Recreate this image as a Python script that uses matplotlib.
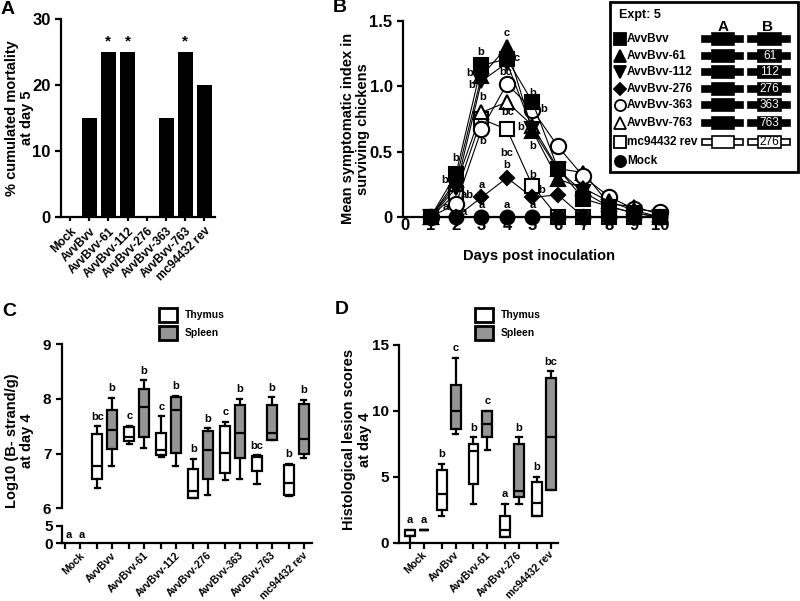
import matplotlib
matplotlib.use('Agg')
import matplotlib.pyplot as plt
import matplotlib.patches as mpatches
import numpy as np

plt.rcParams['font.family'] = ['Liberation Sans', 'DejaVu Sans']
plt.rcParams['font.weight'] = 'bold'
plt.rcParams['axes.labelweight'] = 'bold'
plt.rcParams['axes.linewidth'] = 1.6
plt.rcParams['xtick.major.width'] = 1.6
plt.rcParams['ytick.major.width'] = 1.6
plt.rcParams['xtick.major.size'] = 4
plt.rcParams['ytick.major.size'] = 4

# ---------------- data ----------------
# A: mortality
groups_a = ['Mock', 'AvvBvv', 'AvvBvv-61', 'AvvBvv-112', 'AvvBvv-276',
            'AvvBvv-363', 'AvvBvv-763', 'mc94432 rev']
mortality = [0, 15, 25, 25, 0, 15, 25, 20]
mortality_sig = ['', '', '*', '*', '', '', '*', '']

# B: mean symptomatic index
days = [1, 2, 3, 4, 5, 6, 7, 8, 9, 10]
sym_avvbvv = [0, 0.33, 1.16, 1.21, 0.88, 0.37, 0.14, 0.08, 0.03, 0]
sym_61 = [0, 0.28, 1.08, 1.30, 0.66, 0.29, 0.22, 0.12, 0.05, 0]
sym_112 = [0, 0.22, 1.04, 1.18, 0.67, 0.36, 0.19, 0.08, 0.03, 0]
sym_276 = [0, 0, 0.15, 0.30, 0.15, 0.17, 0, 0, 0, 0]
sym_363 = [0, 0.10, 0.67, 1.02, 0.82, 0.54, 0.31, 0.155, 0.06, 0.04]
sym_763 = [0, 0.25, 0.80, 0.88, 0.70, 0.37, 0.34, 0.10, 0.08, 0.02]
sym_mc = [0, 0.18, 0.75, 0.67, 0.24, 0, 0, 0, 0, 0]
sym_mock = [0, 0, 0, 0, 0, 0, 0, 0, 0, 0]
# letters of statistical groups (day, value, letter)
letters_b = [(2, 0.45, 'b'), (1.55, 0.28, 'b'), (2.45, 0.17, 'ab'), (1.58, 0.08, 'a'),
             (2.3, 0.04, 'a'), (2.97, 1.26, 'b'), (2.55, 1.10, 'b'), (2.6, 1.01, 'b'),
             (3.05, 0.92, 'b'), (3.05, 0.58, 'b'), (3.0, 0.245, 'a'), (3.0, 0.09, 'a'),
             (4.0, 1.41, 'c'), (4.4, 1.22, 'c'), (3.97, 1.11, 'bc'), (4.02, 0.80, 'bc'),
             (4.0, 0.49, 'bc'), (4.0, 0.40, 'b'), (4.0, 0.09, 'a'), (5.02, 0.95, 'b'),
             (5.45, 0.83, 'b'), (4.55, 0.69, 'b'), (5.02, 0.54, 'b'), (5.02, 0.32, 'b'),
             (5.38, 0.21, 'b'), (5.0, 0.09, 'a')]

# C: viral load, log10 (whislo, q1, med, q3, whishi)
groups_c = ['Mock', 'AvvBvv', 'AvvBvv-61', 'AvvBvv-112', 'AvvBvv-276',
            'AvvBvv-363', 'AvvBvv-763', 'mc94432 rev']
thymus_c = [None,
            (6.37, 6.53, 6.77, 7.36, 7.50),
            (7.17, 7.23, 7.31, 7.49, 7.51),
            (6.94, 6.97, 7.06, 7.37, 7.68),
            (6.19, 6.19, 6.32, 6.71, 6.91),
            (6.51, 6.65, 7.02, 7.50, 7.58),
            (6.44, 6.68, 6.93, 6.95, 6.97),
            (6.23, 6.24, 6.46, 6.79, 6.81)]
spleen_c = [None,
            (6.77, 7.08, 7.44, 7.79, 8.02),
            (7.11, 7.31, 7.85, 8.18, 8.34),
            (6.78, 7.02, 7.79, 8.03, 8.06),
            (6.24, 6.54, 7.06, 7.42, 7.46),
            (6.54, 6.92, 7.38, 7.89, 8.00),
            (7.25, 7.25, 7.37, 7.89, 8.03),
            (6.92, 6.99, 7.26, 7.90, 7.98)]
thy_letters_c = ['a', 'bc', 'c', 'c', 'b', 'c', 'bc', 'b']
spl_letters_c = ['a', 'b', 'b', 'b', 'b', 'b', 'b', 'b']

# D: histological lesion scores
groups_d = ['Mock', 'AvvBvv', 'AvvBvv-61', 'AvvBvv-276', 'mc94432 rev']
thymus_d = [(0, 0.5, 0.5, 1.0, 1.0),
            (2.0, 2.45, 3.7, 5.5, 6.0),
            (2.95, 4.45, 6.95, 7.5, 8.0),
            (0.4, 0.4, 0.95, 2.0, 2.95),
            (2.0, 2.0, 3.0, 4.6, 5.0)]
spleen_d = [(1.0, 1.0, 1.0, 1.0, 1.0),
            (8.25, 8.6, 10.0, 12.0, 14.0),
            (7.05, 8.0, 9.0, 10.0, 10.0),
            (2.95, 3.45, 3.95, 7.5, 8.0),
            (4.0, 4.0, 8.0, 12.5, 13.0)]
thy_letters_d = ['a', 'b', 'b', 'a', 'b']
spl_letters_d = ['a', 'c', 'c', 'b', 'bc']

GREY = '#959595'
W, H = 800, 601
LBL = 10.5   # axis titles
TCK = 11     # tick numbers
CAT = 8.5    # rotated group names (A)
CAT2 = 7.5   # rotated group names (C, D)
LET = 8      # significance letters


def rect(x0, y0, x1, y1):
    # pixel box (top-left origin) -> figure fraction
    return [x0 / W, 1 - y1 / H, (x1 - x0) / W, (y1 - y0) / H]


def stats(t):
    return dict(whislo=t[0], q1=t[1], med=t[2], q3=t[3], whishi=t[4], fliers=[])


def draw_boxes(ax, data, pos, face):
    ax.bxp([stats(t) for t in data], positions=pos, widths=0.31, patch_artist=True,
           showfliers=False, manage_ticks=False, capwidths=0.17,
           boxprops=dict(facecolor=face, edgecolor='black', linewidth=1.6),
           medianprops=dict(color='black', linewidth=1.6),
           whiskerprops=dict(color='black', linewidth=1.6),
           capprops=dict(color='black', linewidth=1.6))


fig = plt.figure(figsize=(8, 6.01), dpi=100)

# ---------------- A ----------------
axA = fig.add_axes(rect(61, 19.3, 215, 216.7))
xa = np.arange(len(groups_a))
axA.bar(xa, mortality, width=0.78, color='black')
for x, v, s in zip(xa, mortality, mortality_sig):
    if s:
        axA.text(x, v + 0.6, s, ha='center', va='bottom', fontsize=11)
axA.set_xlim(-0.47, 7.55)
axA.set_ylim(0, 30)
axA.set_yticks([0, 10, 20, 30])
axA.set_xticks(xa)
axA.set_xticklabels(groups_a, rotation=45, ha='right', rotation_mode='anchor', fontsize=CAT)
axA.tick_params(axis='y', labelsize=TCK + 1)
axA.tick_params(axis='x', length=3, pad=3)
axA.spines[['top', 'right']].set_visible(False)
axA.set_ylabel('% cumulated mortality\nat day 5', fontsize=LBL, linespacing=1.1, va='center')
axA.yaxis.set_label_coords(-0.27, 0.5)

# ---------------- B ----------------
axB = fig.add_axes(rect(403, 21, 666, 217))
series = [(sym_mc, 's', 'white', 10), (sym_763, '^', 'white', 10),
          (sym_363, 'o', 'white', 11), (sym_276, 'D', 'black', 7),
          (sym_112, 'v', 'black', 10), (sym_61, '^', 'black', 10),
          (sym_avvbvv, 's', 'black', 10), (sym_mock, 'o', 'black', 10)]
for vals, mk, fc, ms in series:
    axB.plot(days, vals, marker=mk, color='black', mfc=fc, mec='black', ms=ms,
             mew=1.5, lw=0.8, clip_on=False)
for d, v, s in letters_b:
    axB.text(d, v, s, ha='center', va='center', fontsize=LET)
axB.set_xlim(-0.08, 10.24)
axB.set_ylim(0, 1.5)
axB.set_xticks(range(0, 11))
axB.set_yticks([0, 0.5, 1.0, 1.5])
axB.set_yticklabels(['0', '0.5', '1.0', '1.5'])
axB.tick_params(labelsize=TCK + 1)
axB.tick_params(axis='x', length=0, pad=1)
axB.spines[['top', 'right']].set_visible(False)
axB.set_xlabel('Days post inoculation', fontsize=LBL, va='center')
axB.xaxis.set_label_coords(0.517, -0.2)
axB.set_ylabel('Mean symptomatic index in\nsurviving chickens', fontsize=LBL,
               linespacing=1.1, va='center')
axB.yaxis.set_label_coords(-0.18, 0.45)

# ---------------- C ----------------
xc = np.arange(len(groups_c))
axC = fig.add_axes(rect(61.7, 344.3, 311.7, 508.3))
axC2 = fig.add_axes(rect(61.7, 525.7, 311.7, 543.3))
thy_pos = [x - 0.225 for x in xc]
spl_pos = [x + 0.225 for x in xc]
draw_boxes(axC, [t for t in thymus_c if t], [p for p, t in zip(thy_pos, thymus_c) if t], 'white')
draw_boxes(axC, [t for t in spleen_c if t], [p for p, t in zip(spl_pos, spleen_c) if t], GREY)
for p, t, s in zip(thy_pos, thymus_c, thy_letters_c):
    if t:
        axC.annotate(s, (p, t[4]), xytext=(0, 7), textcoords='offset points',
                     ha='center', va='center', fontsize=LET)
    else:
        axC2.text(p + 0.1, 2.5, s, ha='center', va='center', fontsize=LET)
for p, t, s in zip(spl_pos, spleen_c, spl_letters_c):
    if t:
        axC.annotate(s, (p, t[4]), xytext=(0, 7), textcoords='offset points',
                     ha='center', va='center', fontsize=LET)
    else:
        axC2.text(p + 0.05, 2.5, s, ha='center', va='center', fontsize=LET)
for ax in (axC, axC2):
    ax.set_xlim(-0.34, 7.48)
    ax.spines[['top', 'right']].set_visible(False)
    ax.tick_params(axis='y', labelsize=TCK)
axC.set_ylim(6, 9)
axC.set_yticks([6, 7, 8, 9])
axC.spines['bottom'].set_visible(False)
axC.set_xticks([])
axC2.set_ylim(0, 5)
axC2.set_yticks([0, 5])
axC2.tick_params(axis='y', pad=2)
axC2.set_xticks(sorted(thy_pos + spl_pos))
axC2.set_xticklabels([])
axC2.set_xticks(xc + 0.2, minor=True)
axC2.set_xticklabels(groups_c, minor=True, rotation=45, ha='right',
                     rotation_mode='anchor', fontsize=CAT2)
axC2.tick_params(axis='x', which='minor', length=0, pad=5)
axC2.tick_params(axis='x', which='major', length=4)
axC.set_ylabel('Log10 (B- strand/g)\nat day 4', fontsize=LBL, linespacing=1.1, va='center')
axC.yaxis.set_label_coords(-0.17, 0.41)

# ---------------- D ----------------
xd = np.arange(len(groups_d))
axD = fig.add_axes(rect(399, 345, 558, 542.7))
thy_pos_d = [x - 0.22 for x in xd]
spl_pos_d = [x + 0.22 for x in xd]
draw_boxes(axD, thymus_d, thy_pos_d, 'white')
draw_boxes(axD, spleen_d, spl_pos_d, GREY)
for p, t, s in zip(thy_pos_d + spl_pos_d, thymus_d + spleen_d, thy_letters_d + spl_letters_d):
    axD.annotate(s, (p, t[4]), xytext=(0, 7), textcoords='offset points',
                 ha='center', va='center', fontsize=LET)
axD.set_xlim(-0.57, 4.45)
axD.set_ylim(0, 15)
axD.set_yticks([0, 5, 10, 15])
axD.tick_params(axis='y', labelsize=TCK)
axD.set_xticks(sorted(thy_pos_d + spl_pos_d))
axD.set_xticklabels([])
axD.set_xticks(xd + 0.15, minor=True)
axD.set_xticklabels(groups_d, minor=True, rotation=45, ha='right',
                    rotation_mode='anchor', fontsize=CAT2)
axD.tick_params(axis='x', which='minor', length=0, pad=5)
axD.spines[['top', 'right']].set_visible(False)
axD.set_ylabel('Histological lesion scores\nat day 4', fontsize=LBL, linespacing=1.1, va='center')
axD.yaxis.set_label_coords(-0.264, 0.52)

# ---------------- overlay: panel letters, legends ----------------
ov = fig.add_axes([0, 0, 1, 1])
ov.set_xlim(0, W)
ov.set_ylim(H, 0)
ov.axis('off')
ov.patch.set_visible(False)
for s, x, y in [('A', 1, 10), ('B', 333, 8), ('C', 2, 311), ('D', 335, 310)]:
    ov.text(x, y, s, fontsize=14, ha='left', va='center')

# legend of panel B
ov.add_patch(mpatches.Rectangle((610, 2), 188, 170, fill=False, lw=2, ec='black'))
ov.text(619, 15, 'Expt: 5', fontsize=9, va='center')
ov.text(722.7, 27, 'A', fontsize=11, ha='center', va='center')
ov.text(767.7, 27, 'B', fontsize=11, ha='center', va='center')
leg_names = ['AvvBvv', 'AvvBvv-61', 'AvvBvv-112', 'AvvBvv-276', 'AvvBvv-363',
             'AvvBvv-763', 'mc94432 rev', 'Mock']
leg_y = [39.3, 56, 72, 88.7, 105, 122.7, 142, 161]
leg_mk = [('s', 'black', 8), ('^', 'black', 8), ('v', 'black', 8), ('D', 'black', 6),
          ('o', 'white', 8), ('^', 'white', 8), ('s', 'white', 8), ('o', 'black', 8)]
leg_b = ['', '61', '112', '276', '363', '763', '276']
for i, (name, y, (mk, fc, ms)) in enumerate(zip(leg_names, leg_y, leg_mk)):
    ov.plot([620], [y], marker=mk, mfc=fc, mec='black', ms=ms, mew=1.3, ls='none')
    ov.text(627, y, name, fontsize=8.5, va='center', ha='left')
    if i < len(leg_b):
        fcol = 'white' if name == 'mc94432 rev' else 'black'
        for a0, a1, b0, b1 in [(701.7, 743.3, 711.7, 734), (748.3, 790, 758.3, 780.7)]:
            ov.add_patch(mpatches.Rectangle((a0, y - 3), a1 - a0, 6, fc=fcol, ec='black', lw=1.2))
            ov.add_patch(mpatches.Rectangle((b0, y - 6), b1 - b0, 12, fc=fcol, ec='black', lw=1.2))
        if leg_b[i]:
            ov.text((758.3 + 780.7) / 2, y, leg_b[i], fontsize=8.5, ha='center', va='center',
                    color='black' if fcol == 'white' else 'white', fontweight='normal')

# legends of panels C and D
for x0 in (159, 475):
    ov.add_patch(mpatches.Rectangle((x0, 308), 18, 14, fc='white', ec='black', lw=2))
    ov.add_patch(mpatches.Rectangle((x0, 326), 18, 14, fc=GREY, ec='black', lw=2))
    ov.text(x0 + 26, 315, 'Thymus', fontsize=7.5, va='center')
    ov.text(x0 + 26, 333, 'Spleen', fontsize=7.5, va='center')

fig.savefig('out.png', dpi=100)
